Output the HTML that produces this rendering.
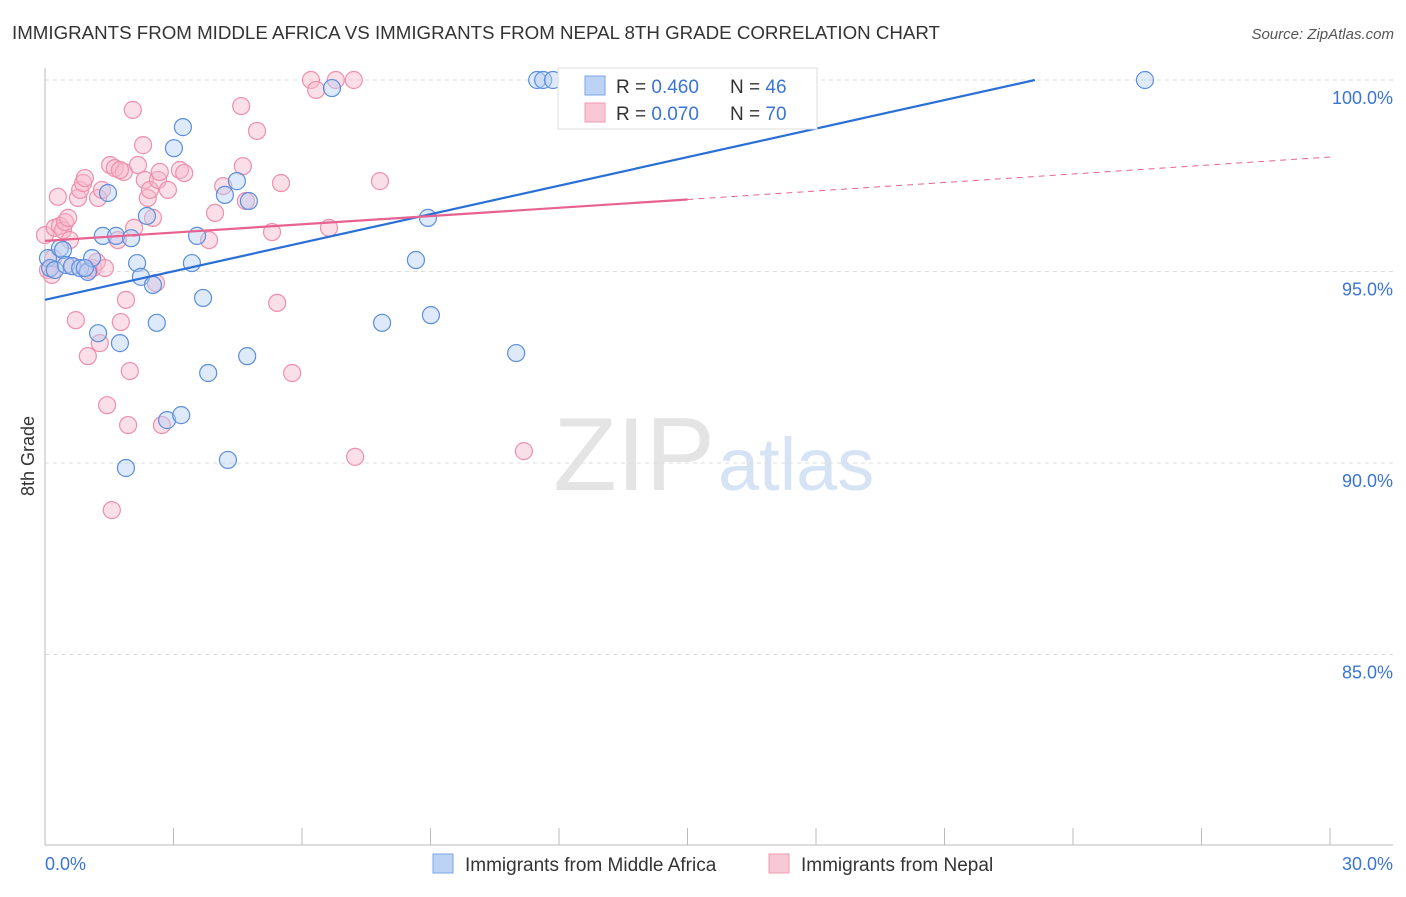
<!DOCTYPE html>
<html><head><meta charset="utf-8"><style>
body{margin:0;background:#fff;font-family:"Liberation Sans",sans-serif;}
svg text{font-family:"Liberation Sans",sans-serif;}
</style></head><body>
<svg id="chart" width="1406" height="892" xmlns="http://www.w3.org/2000/svg">
<text x="12" y="39" font-size="18" fill="#333" textLength="928" lengthAdjust="spacingAndGlyphs">IMMIGRANTS FROM MIDDLE AFRICA VS IMMIGRANTS FROM NEPAL 8TH GRADE CORRELATION CHART</text>
<text x="1394" y="39" font-size="15" fill="#555" font-style="italic" text-anchor="end">Source: ZipAtlas.com</text>
<text x="715" y="490" font-size="104" font-family="Liberation Serif" fill="#e4e4e4" text-anchor="end">ZIP</text>
<text x="718" y="490" font-size="74" fill="#d6e3f5">atlas</text>
<g id="grid"></g><g id="axes"></g><g id="pts"></g><g id="lines"></g>
<text x="34" y="456" font-size="18" fill="#333" text-anchor="middle" transform="rotate(-90 34 456)">8th Grade</text>
<text x="45" y="870" font-size="18" fill="#3a74d4">0.0%</text>
<text x="1393" y="870" font-size="18" fill="#3a74d4" text-anchor="end">30.0%</text>
<g>
<rect x="558" y="68" width="259" height="61" fill="#fff" stroke="#ddd"/>
<rect x="585" y="76" width="20" height="19" fill="#bcd3f5" stroke="#7aa5e6"/>
<rect x="585" y="103" width="20" height="19" fill="#f9c8d6" stroke="#f09ab2"/>
<text x="616" y="93" font-size="19" fill="#333">R = <tspan fill="#3a74d4">0.460</tspan></text>
<text x="730" y="93" font-size="19" fill="#333">N = <tspan fill="#3a74d4">46</tspan></text>
<text x="616" y="120" font-size="19" fill="#333">R = <tspan fill="#3a74d4">0.070</tspan></text>
<text x="730" y="120" font-size="19" fill="#333">N = <tspan fill="#3a74d4">70</tspan></text>
</g>
<g>
<rect x="433" y="854" width="20" height="19" fill="#bcd3f5" stroke="#7aa5e6"/>
<text x="465" y="871" font-size="19" fill="#333">Immigrants from Middle Africa</text>
<rect x="769" y="854" width="20" height="19" fill="#f9c8d6" stroke="#f09ab2"/>
<text x="801" y="871" font-size="19" fill="#333">Immigrants from Nepal</text>
</g>
</svg>
<script>
const yTicks=[100,95,90,85];
const xTickCount=10;
const bluePx=[[48,258],[50,268],[55,270],[60,248],[63,250],[66,265],[72,266],[80,268],[88,272],[92,258],[98,333],[103,236],[108,193],[116,236],[120,343],[126,468],[131,238],[137,263],[141,277],[147,216],[153,285],[157,323],[167,420],[174,148],[181,415],[183,127],[192,263],[197,236],[203,298],[208,373],[228,460],[225,195],[237,181],[247,356],[249,201],[332,88],[382,323],[416,260],[428,218],[431,315],[516,353],[537,80],[543,80],[553,80],[1145,80],[85,268]];
const pinkPx=[[45,235],[48,270],[52,275],[53,258],[55,228],[58,197],[60,226],[63,230],[65,222],[68,218],[70,240],[73,266],[76,320],[78,198],[80,190],[83,183],[85,178],[88,356],[89,270],[93,268],[97,262],[98,198],[100,343],[102,190],[105,268],[107,405],[110,165],[112,510],[115,168],[118,240],[121,322],[124,172],[126,300],[128,425],[130,371],[134,228],[138,165],[143,145],[145,180],[148,198],[150,190],[153,218],[156,283],[158,180],[162,425],[168,190],[180,170],[184,173],[209,240],[215,213],[223,186],[241,106],[243,166],[246,201],[257,131],[272,232],[277,303],[281,183],[292,373],[311,80],[316,90],[329,228],[336,80],[354,80],[355,457],[380,181],[524,451],[133,110],[160,172],[120,170]];
const blueX=bluePx.map(p=>+((p[0]-45)/1285*30).toFixed(2));
const blueY=bluePx.map(p=>+(100-(p[1]-80)/38.3).toFixed(2));
const pinkX=pinkPx.map(p=>+((p[0]-45)/1285*30).toFixed(2));
const pinkY=pinkPx.map(p=>+(100-(p[1]-80)/38.3).toFixed(2));
const blueLine=[[0,94.26],[23.11,100]];
const pinkLine=[[0,95.8],[15,96.88]];
const pinkDash=[[15,96.88],[30,97.99]];
const X=v=>45+v/30*1285, Y=v=>80+(100-v)*38.3;
const NS="http://www.w3.org/2000/svg";
function mk(tag,attrs,parent){const e=document.createElementNS(NS,tag);for(const k in attrs)e.setAttribute(k,attrs[k]);document.getElementById(parent).appendChild(e);return e;}
yTicks.forEach(t=>{
 const l=mk('line',{x1:45,x2:1393,y1:Y(t),y2:Y(t),stroke:'#ddd','stroke-dasharray':'4,4'},'grid');
 
 
 const tx=mk('text',{x:1393,y:Y(t)+24,'font-size':18,fill:'#3a74d4','text-anchor':'end'},'grid');
 tx.textContent=t.toFixed(1)+'%';
 
 
});
let a=mk('line',{x1:45,x2:45,y1:68,y2:845,stroke:'#bbb'},'axes');


a=mk('line',{x1:45,x2:1393,y1:845,y2:845,stroke:'#bbb'},'axes');


for(let i=0;i<=xTickCount;i++){
 const t=mk('line',{x1:X(i*3),x2:X(i*3),y1:828,y2:845,stroke:'#bbb'},'axes');
 
 
}
function pts(xs,ys,fill,stroke,name){xs.forEach((x,i)=>{
 const c=mk('circle',{cx:X(x),cy:Y(ys[i]),r:8.5,fill:fill,'fill-opacity':0.45,stroke:stroke,'stroke-width':1.2},'pts');
 
 
});}
pts(pinkX,pinkY,'#f7b9cb','#ee8fab','point-nepal');
pts(blueX,blueY,'#b5cff3','#5b8fdc','point-middle-africa');
let l=mk('line',{x1:X(blueLine[0][0]),y1:Y(blueLine[0][1]),x2:X(blueLine[1][0]),y2:Y(blueLine[1][1]),stroke:'#2a6fd6','stroke-width':2.2},'lines');


l=mk('line',{x1:X(pinkLine[0][0]),y1:Y(pinkLine[0][1]),x2:X(pinkLine[1][0]),y2:Y(pinkLine[1][1]),stroke:'#e8628f','stroke-width':2.2},'lines');


l=mk('line',{x1:X(pinkDash[0][0]),y1:Y(pinkDash[0][1]),x2:X(pinkDash[1][0]),y2:Y(pinkDash[1][1]),stroke:'#e8628f','stroke-width':1,'stroke-dasharray':'6,5'},'lines');


</script>
</body></html>
